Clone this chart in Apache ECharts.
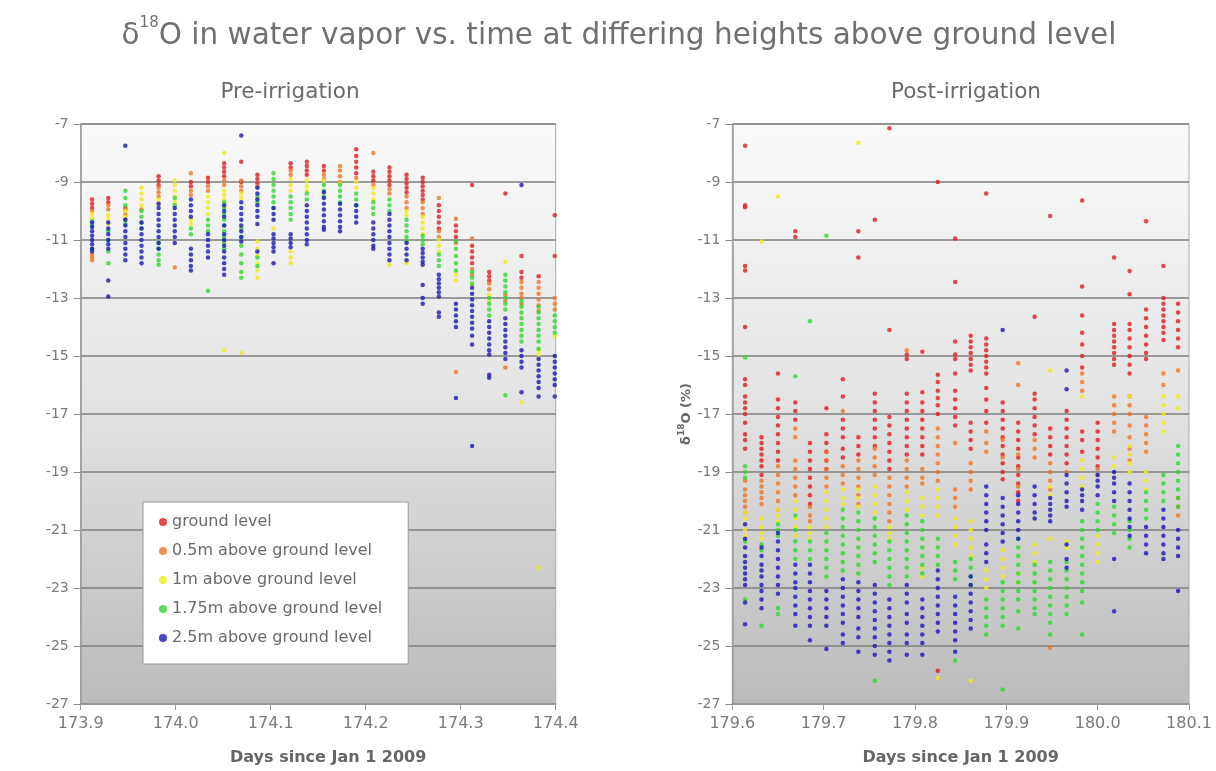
<!DOCTYPE html>
<html>
<head>
<meta charset="utf-8">
<title>δ18O in water vapor</title>
<script src="https://cdn.jsdelivr.net/npm/echarts@6.0.0/dist/echarts.min.js"></script>
<style>
  html, body { margin: 0; padding: 0; background: #ffffff; }
  #chart { width: 1216px; height: 771px; }
</style>
</head>
<body>
<div id="chart"></div>
<script>
// Measurement heights (series names)
const heightNames = ['ground level', '0.5m above ground level', '1m above ground level',
  '1.75m above ground level', '2.5m above ground level'];

// Tick labels on the time axes
const preTicks = [173.9, 174.0, 174.1, 174.2, 174.3, 174.4];
const postTicks = [179.6, 179.7, 179.8, 179.9, 180.0, 180.1];

// ---- Pre-irrigation: start time of each inlet cycle (days since Jan 1 2009)
const preTimes = [173.912, 173.929, 173.947, 173.964, 173.982, 173.999, 174.016, 174.034,
  174.051, 174.069, 174.086, 174.103, 174.121, 174.138, 174.156, 174.173, 174.190, 174.208,
  174.225, 174.243, 174.260, 174.277, 174.295, 174.312, 174.330, 174.347, 174.364, 174.382, 174.399];

// δ18O readings (‰) per cycle, one list per height
const preGround = [
  [-9.6, -9.75, -9.9], [-9.55, -9.7], [-9.9], [], [-8.8, -8.95, -9.1], [], [-9.0, -9.15],
  [-8.85, -9.0], [-8.35, -8.5, -8.65, -8.8], [-8.3, -9.0], [-8.75, -8.9, -9.05], [],
  [-8.35, -8.5], [-8.3, -8.45, -8.6, -8.75], [-8.45, -8.6], [], [-7.87, -8.1, -8.3, -8.5, -8.7],
  [-8.65, -8.8, -8.95], [-8.5, -8.65, -8.8, -8.95, -9.1], [-8.75, -8.9, -9.05, -9.2, -9.35],
  [-8.85, -9.0, -9.15, -9.3, -9.45, -9.6], [-9.8, -10.0, -10.2, -10.4, -10.6], [-10.5, -10.7, -10.9],
  [-9.1, -11.2, -11.4, -11.6, -11.8], [-12.1, -12.25, -12.4], [-9.4], [-11.55, -12.1, -12.3],
  [-12.25], [-10.15, -11.55]
];
const preHalf = [
  [-10.0, -11.5, -11.6, -11.7], [-9.8, -9.95], [-9.95, -10.1], [-9.95], [-9.2, -9.35, -9.5],
  [-11.95], [-8.7, -9.3, -9.45], [-9.15, -9.3], [-8.95, -9.1], [-8.95, -9.15, -9.3], [-9.15], [],
  [-8.6, -8.75], [], [-8.75, -8.9], [-8.45, -8.6, -8.8, -9.0], [-8.85], [-8.0, -9.1], [-9.25, -9.4],
  [-9.5, -9.7, -9.9], [-9.7, -9.9, -10.1], [-9.55, -10.7, -10.9], [-10.27, -11.1, -15.55],
  [-10.95, -12.0, -12.2], [-12.5, -12.7], [-12.9, -13.1, -15.4], [-12.45, -12.65, -12.85, -13.0, -13.2],
  [-12.45, -12.65, -12.85, -13.05, -13.25, -13.45], [-13.0, -13.2, -13.4]
];
const preOne = [
  [-10.1, -10.25], [-10.15, -10.3, -10.45], [-10.0, -10.2], [-9.2, -9.4, -9.6, -9.8], [-9.6, -9.75],
  [-8.95, -9.1, -9.3, -9.5, -9.7], [-10.3, -10.45], [-9.5, -9.7, -9.9, -10.1],
  [-8.0, -9.3, -9.45, -9.6, -14.8], [-9.4, -9.55, -14.9], [-11.05, -11.3, -11.55, -11.8, -12.05, -12.3],
  [-10.6], [-8.9, -9.1, -9.3, -11.4, -11.6, -11.8], [-8.95, -9.15, -9.3], [-8.95], [-9.05],
  [-9.0, -9.2], [-9.2, -9.4, -9.6], [-11.85], [-10.0, -10.15, -11.8], [-10.2, -10.4, -10.6, -10.8],
  [-11.0, -11.2, -11.4], [-12.2, -12.4], [-12.55], [-12.9, -13.1], [-11.75], [-16.6],
  [-14.8, -14.95, -22.3], [-14.3]
];
const preOneSeventyFive = [
  [-10.35, -10.5, -11.3], [-10.7, -11.0, -11.4, -11.8], [-9.3, -9.55, -9.8, -10.3, -10.45],
  [-10.0, -10.2, -10.4, -10.6], [-11.1, -11.3, -11.5, -11.7, -11.85], [-9.55, -9.8], [-10.6, -10.8],
  [-10.3, -10.5, -10.7, -12.75], [-9.7, -9.9, -10.1, -10.3, -10.5, -10.7, -10.9, -11.1, -11.3],
  [-10.6, -10.9, -11.2, -11.5, -11.8, -12.1, -12.3], [-9.5, -9.7, -11.6, -11.9],
  [-8.7, -8.9, -9.1, -9.3, -9.5, -9.7, -9.9], [-9.5, -9.7, -9.9, -10.1, -10.3], [-9.4, -9.6],
  [-9.1, -9.3, -9.5], [-9.1, -9.3, -9.5, -9.7], [-9.4, -9.6, -9.8], [-9.7, -9.9, -10.1],
  [-9.6, -9.8, -10.0], [-10.3, -10.5, -10.7, -10.9, -11.05], [-10.85, -11.0, -11.15],
  [-11.5, -11.7, -11.9], [-11.05, -11.3, -11.55, -11.8, -12.05], [-12.1, -12.3, -12.5],
  [-13.0, -13.2, -13.4, -13.6], [-12.2, -12.4, -12.6, -12.8, -13.0, -13.2, -13.4, -16.35],
  [-13.1, -13.3, -13.5, -13.7, -13.9, -14.1, -14.3, -14.5],
  [-13.3, -13.5, -13.7, -13.9, -14.1, -14.3, -14.5, -14.75], [-13.6, -13.8, -14.0, -14.2]
];
const preTwoFive = [
  [-10.4, -10.55, -10.7, -10.85, -11.0, -11.15, -11.3, -11.4],
  [-10.4, -10.6, -10.8, -11.0, -11.15, -11.3, -12.4, -12.95],
  [-7.75, -10.3, -10.5, -10.7, -10.9, -11.1, -11.3, -11.5, -11.7],
  [-10.4, -10.6, -10.8, -11.0, -11.2, -11.4, -11.6, -11.8],
  [-9.75, -9.9, -10.1, -10.3, -10.5, -10.7, -10.9, -11.1, -11.3],
  [-9.9, -10.1, -10.3, -10.5, -10.7, -10.9, -11.1],
  [-9.6, -9.8, -10.0, -10.2, -11.3, -11.5, -11.7, -11.9, -12.05],
  [-10.8, -11.0, -11.2, -11.4, -11.6],
  [-9.8, -10.0, -10.2, -10.5, -10.8, -11.0, -11.2, -11.4, -11.6, -11.8, -12.0, -12.2],
  [-7.4, -9.7, -9.9, -10.1, -10.3, -10.5, -10.7, -10.9, -11.05],
  [-9.2, -9.4, -9.6, -9.8, -10.0, -10.2, -10.45, -11.4],
  [-9.9, -10.1, -10.3, -10.8, -10.95, -11.1, -11.25, -11.4, -11.8],
  [-10.8, -10.95, -11.1, -11.25],
  [-9.8, -10.0, -10.2, -10.4, -10.6, -10.8, -11.0, -11.15],
  [-9.35, -9.55, -9.75, -9.95, -10.15, -10.35, -10.55, -10.65],
  [-9.75, -9.95, -10.15, -10.35, -10.55, -10.7],
  [-9.8, -10.0, -10.2, -10.4],
  [-10.4, -10.6, -10.8, -11.0, -11.2, -11.3],
  [-10.1, -10.3, -10.5, -10.7, -10.9, -11.1, -11.3, -11.5, -11.7],
  [-11.1, -11.3, -11.5, -11.7],
  [-11.3, -11.45, -11.6, -11.75, -11.85, -12.55, -13.0, -13.2],
  [-12.2, -12.35, -12.5, -12.65, -12.8, -12.95, -13.5, -13.65],
  [-13.2, -13.4, -13.6, -13.8, -14.0, -16.45],
  [-12.65, -12.85, -13.05, -13.25, -13.45, -13.65, -13.85, -14.05, -14.3, -14.6, -18.1],
  [-13.8, -14.0, -14.2, -14.4, -14.6, -14.8, -14.95, -15.65, -15.75],
  [-13.7, -13.9, -14.1, -14.3, -14.5, -14.7, -14.9, -15.1],
  [-9.1, -14.8, -15.0, -15.2, -15.4, -16.25],
  [-15.1, -15.3, -15.5, -15.7, -15.9, -16.1, -16.4],
  [-15.0, -15.2, -15.4, -15.6, -15.8, -16.0, -16.4]
];

// ---- Post-irrigation cycles
const postTimes = [179.614, 179.632, 179.650, 179.669, 179.685, 179.703, 179.721, 179.738,
  179.756, 179.772, 179.791, 179.808, 179.825, 179.844, 179.861, 179.878, 179.896, 179.913,
  179.931, 179.948, 179.966, 179.983, 180.000, 180.018, 180.035, 180.053, 180.072, 180.088];

const postGround = [
  [-7.75, -9.8, -9.87, -11.9, -12.05, -14.0, -15.8, -16.0, -16.4, -16.6, -16.8, -17.0, -17.3, -17.7, -17.9, -18.2],
  [-17.8, -18.0, -18.2, -18.4, -18.6, -18.8, -19.1],
  [-15.6, -16.5, -16.8, -17.1, -17.4, -17.7, -18.0, -18.3, -18.6],
  [-10.7, -10.9, -16.6, -16.9, -17.2],
  [-18.0, -18.3, -18.6, -18.9, -19.2, -19.5, -19.8, -20.1],
  [-16.8, -17.7, -18.0, -18.3, -18.6, -18.9],
  [-15.8, -16.4, -17.2, -17.5, -17.8, -18.2, -18.5],
  [-10.7, -11.6, -17.8, -18.1, -18.4],
  [-10.3, -16.3, -16.6, -16.9, -17.2, -17.5, -17.8, -18.1],
  [-7.15, -14.1, -17.1, -17.4, -17.7, -18.0, -18.3, -18.6, -18.9],
  [-14.95, -15.1, -16.3, -16.6, -16.9, -17.2, -17.5, -17.8, -18.1, -18.4],
  [-14.85, -16.25, -16.6, -16.9, -17.2, -17.5, -17.8, -18.1, -18.4],
  [-9.0, -15.65, -15.9, -16.2, -16.45, -16.7, -17.0, -25.85],
  [-10.95, -12.45, -14.5, -14.95, -15.1, -15.6, -16.2, -16.5, -16.8, -17.1, -17.4],
  [-14.3, -14.5, -14.7, -14.9, -15.1, -15.3, -15.5, -17.3, -17.6, -17.9, -18.2],
  [-9.4, -14.4, -14.6, -14.8, -15.0, -15.2, -15.4, -15.6, -16.1, -16.5, -16.9, -17.3],
  [-16.6, -16.9, -17.2, -17.5, -17.8, -18.1, -18.4, -18.7, -19.0, -19.25],
  [-17.3, -17.6, -17.9, -18.2, -18.5, -18.8, -19.1, -19.4, -19.7, -20.0],
  [-13.65, -16.3, -16.5, -16.8, -17.1, -17.4, -17.7],
  [-10.17, -17.5, -17.8, -18.1, -18.4],
  [-16.9, -17.2, -17.5, -17.8, -18.1, -18.4, -18.7],
  [-9.64, -12.6, -13.6, -14.2, -14.6, -15.0, -15.4, -17.6, -17.9, -18.3],
  [-17.3, -17.6, -17.9, -18.2, -18.5, -18.8],
  [-11.6, -13.9, -14.1, -14.3, -14.5, -14.7, -14.9, -15.1, -15.3],
  [-12.07, -12.87, -13.9, -14.1, -14.4, -14.7, -15.0, -15.3, -15.6],
  [-10.35, -13.4, -13.7, -14.0, -14.3, -14.6, -14.9, -15.1],
  [-11.9, -13.0, -13.2, -13.4, -13.6, -13.8, -14.0, -14.2, -14.45],
  [-13.2, -13.5, -13.8, -14.1, -14.4, -14.7]
];
const postHalf = [
  [-19.3, -19.6, -19.8, -20.0, -20.2, -20.4], [-19.3, -19.5, -19.7, -19.9, -20.1],
  [-18.8, -19.1, -19.4, -19.7, -20.0, -20.3], [-17.5, -17.8, -18.6, -18.9, -19.2, -19.5, -19.8],
  [-20.2, -20.5, -20.7], [-18.3, -18.6, -18.9, -19.2, -19.5], [-16.9, -18.8, -19.1, -19.4],
  [-18.6, -18.9, -19.2, -19.5, -19.8, -20.1], [-18.2, -18.5, -18.8, -19.1],
  [-19.2, -19.5, -19.8, -20.1, -20.4, -20.7], [-14.8, -18.6, -18.9, -19.2, -19.5],
  [-18.9, -19.2, -19.4], [-17.5, -17.8, -18.1, -18.4, -18.7, -19.0, -19.3],
  [-18.0, -19.6, -19.9, -20.2], [-18.7, -19.0, -19.3, -19.6], [-17.6, -18.0, -18.3],
  [-17.9, -18.5], [-15.25, -16.0, -18.4, -18.9, -19.5], [-17.9, -18.2, -18.5],
  [-18.7, -19.0, -19.3, -19.6, -25.06], [-19.0], [-15.6, -15.9, -16.2], [-18.9, -19.1],
  [-16.4, -16.7, -17.0, -17.3, -17.6], [-16.4, -16.7, -17.0, -17.4, -17.8, -18.2, -18.6],
  [-17.1, -17.4, -17.7, -18.0, -18.3], [-15.6, -16.0], [-15.5, -19.9, -20.2, -20.5]
];
const postOne = [
  [-20.4, -20.6, -20.8, -21.0, -21.2, -23.45], [-11.05, -20.6, -20.9, -21.1, -21.3],
  [-9.5, -20.3, -20.5, -20.7], [-20.0, -20.3, -20.6, -20.9, -21.2], [-20.9, -21.1, -21.3],
  [-19.7, -20.0, -20.3, -20.6, -20.9], [-19.6, -19.9, -20.1], [-7.65, -19.6, -19.9, -20.2],
  [-19.5, -19.8, -20.1, -20.4], [-20.9, -21.1, -21.3], [-19.7, -20.0, -20.3],
  [-19.9, -20.2, -20.5, -22.3, -22.6], [-19.6, -19.9, -20.2, -20.5, -26.1],
  [-20.6, -20.9, -21.2, -21.5], [-20.7, -21.0, -21.3, -21.6, -21.9, -26.2], [-22.4, -22.7, -23.0],
  [-21.7, -22.0, -22.3, -22.6], [-22.5, -22.8], [-21.5, -21.8, -22.1], [-15.5, -19.5, -19.8, -21.3],
  [-21.4, -21.6], [-16.4, -18.6, -18.9, -19.2, -19.5], [-21.2, -21.5, -21.8, -22.1], [-18.5, -18.8],
  [-16.4, -18.1, -18.4, -18.7, -19.0], [-19.0, -19.3, -19.6], [-16.4, -16.7, -17.0, -17.3, -17.6],
  [-16.4, -16.8]
];
const postOneSeventyFive = [
  [-15.05, -18.8, -19.0, -19.2, -21.4, -23.4], [-21.5, -21.7, -24.3], [-20.8, -21.0, -21.2, -23.7, -23.9],
  [-15.7, -20.5, -21.0, -21.4, -21.7, -22.0], [-13.8, -21.4, -21.7, -22.0],
  [-10.85, -21.1, -21.4, -21.7, -22.0, -22.3, -22.6], [-20.3, -20.6, -20.9, -21.2, -21.5, -21.8, -22.1, -22.4],
  [-20.4, -20.7, -21.0, -21.3, -21.6, -21.9, -22.2, -22.5], [-20.6, -20.9, -21.2, -21.5, -21.8, -22.1, -26.2],
  [-21.4, -21.7, -22.0, -22.3, -22.6, -22.9], [-20.5, -20.8, -21.1, -21.4, -21.7, -22.0, -22.3, -22.6],
  [-20.7, -21.0, -21.3, -21.6, -21.9, -22.2, -22.5], [-21.3, -21.6, -21.9, -22.2],
  [-22.1, -22.4, -22.7, -25.5], [-22.0, -22.3, -22.6, -22.9], [-23.4, -23.7, -24.0, -24.3, -24.6],
  [-22.8, -23.1, -23.4, -23.7, -24.0, -24.3, -26.5],
  [-21.3, -21.6, -21.9, -22.2, -22.5, -22.8, -23.1, -23.4, -23.8, -24.4],
  [-22.2, -22.5, -22.8, -23.1, -23.4, -23.7, -23.9],
  [-22.1, -22.4, -22.7, -23.0, -23.3, -23.6, -23.9, -24.2, -24.6],
  [-22.1, -22.4, -22.7, -23.0, -23.3, -23.6, -23.9],
  [-20.7, -21.0, -21.3, -21.6, -21.9, -22.2, -22.5, -22.8, -23.1, -23.5, -24.6],
  [-20.1, -20.4, -20.7, -21.0], [-20.2, -20.5, -20.8, -21.1], [-20.7, -21.0, -21.3, -21.6],
  [-19.7, -20.0, -20.3, -20.6], [-19.1, -19.4, -19.7, -20.0],
  [-18.1, -18.4, -18.7, -19.0, -19.3, -19.6, -19.9, -20.2]
];
const postTwoFive = [
  [-20.8, -21.3, -21.6, -21.9, -22.1, -22.3, -22.5, -22.7, -22.9, -23.5, -24.25],
  [-21.6, -21.9, -22.2, -22.4, -22.6, -22.9, -23.1, -23.4, -23.7],
  [-21.1, -21.4, -21.7, -22.0, -22.3, -22.6, -22.9, -23.2],
  [-22.2, -22.5, -22.8, -23.0, -23.3, -23.6, -23.9, -24.3],
  [-22.2, -22.5, -22.8, -23.1, -23.4, -23.7, -24.0, -24.3, -24.8],
  [-23.1, -23.4, -23.7, -24.0, -24.3, -25.1],
  [-22.7, -23.0, -23.3, -23.6, -23.9, -24.2, -24.6, -24.9],
  [-22.8, -23.1, -23.4, -23.7, -24.0, -24.4, -24.7, -25.2],
  [-22.9, -23.2, -23.5, -23.8, -24.1, -24.4, -24.7, -25.0, -25.3],
  [-23.4, -23.7, -24.0, -24.3, -24.6, -24.9, -25.2, -25.5],
  [-22.9, -23.2, -23.5, -23.9, -24.2, -24.6, -24.9, -25.3],
  [-23.4, -23.7, -24.0, -24.3, -24.6, -24.9, -25.3],
  [-22.4, -22.7, -23.0, -23.3, -23.6, -23.9, -24.2, -24.5],
  [-23.3, -23.6, -23.9, -24.2, -24.5, -24.8, -25.2],
  [-22.6, -22.9, -23.2, -23.5, -23.8, -24.1, -24.4],
  [-19.5, -19.8, -20.1, -20.4, -20.7, -21.0, -21.5, -21.8, -22.1],
  [-14.1, -19.9, -20.2, -20.5, -20.8, -21.1, -21.4],
  [-19.8, -20.1, -20.4, -20.7, -21.0, -21.3],
  [-19.5, -19.8, -20.1, -20.4, -20.6],
  [-19.9, -20.1, -20.3, -20.5, -20.7],
  [-15.5, -16.15, -19.1, -19.4, -19.7, -20.0, -20.2, -21.5, -22.0, -22.3],
  [-19.6, -19.8, -20.0, -20.3],
  [-19.1, -19.3, -19.5, -19.8],
  [-19.0, -19.2, -19.4, -19.7, -20.0, -22.0, -23.8],
  [-19.4, -19.7, -20.0, -20.3, -20.6, -20.9, -21.2],
  [-20.9, -21.2, -21.5, -21.8],
  [-20.3, -20.6, -20.9, -21.2, -21.5, -21.8, -22.0],
  [-21.0, -21.3, -21.6, -21.9, -23.1]
];

const heightColors = ['#e01b1f', '#ee7526', '#f2ea1c', '#2ed82e', '#1818b8'];

// Flatten per-cycle readings into [time, value] pairs
function toPoints(times, groups) {
  const pts = [];
  groups.forEach((ys, i) => ys.forEach(y => pts.push([times[i], y])));
  return pts;
}

const preSets = [preGround, preHalf, preOne, preOneSeventyFive, preTwoFive];
const postSets = [postGround, postHalf, postOne, postOneSeventyFive, postTwoFive];

const FONT = 'DejaVu Sans';
const plotFill = {
  type: 'linear', x: 0, y: 0, x2: 0, y2: 1,
  colorStops: [
    { offset: 0, color: '#fafafa' },
    { offset: 0.45, color: '#e5e5e5' },
    { offset: 1, color: '#bbbbbb' }
  ]
};

function timeAxis(gridIndex, ticks, namePad) {
  return {
    gridIndex, type: 'value',
    min: ticks[0], max: ticks[ticks.length - 1], interval: 0.1,
    name: 'Days since Jan 1 2009', nameLocation: 'middle', nameGap: 46,
    nameTextStyle: { color: '#666', fontSize: 16, fontWeight: 'bold', fontFamily: FONT, padding: namePad },
    axisLine: { show: true, onZero: false, lineStyle: { color: '#9a9a9a', width: 1.5 } },
    axisTick: { show: true, length: 6, lineStyle: { color: '#9a9a9a' } },
    splitLine: { show: false },
    axisLabel: { color: '#7a7a7a', fontSize: 16, fontFamily: FONT, margin: 12,
      showMinLabel: true, showMaxLabel: true, formatter: v => v.toFixed(1) }
  };
}

function deltaAxis(gridIndex, withName) {
  const ax = {
    gridIndex, type: 'value', min: -27, max: -7, interval: 2,
    axisLine: { show: true, onZero: false, lineStyle: { color: '#9a9a9a', width: 1.5 } },
    axisTick: { show: true, length: 7, lineStyle: { color: '#8a8a8a' } },
    splitLine: { show: true, lineStyle: { color: '#7e7e7e', width: 1.5 } },
    axisLabel: { color: '#7a7a7a', fontSize: 14, fontFamily: FONT, margin: 12 }
  };
  if (withName) {
    ax.name = '{n|δ}{s|18}{n|O (%)}';
    ax.nameLocation = 'middle';
    ax.nameRotate = 90;
    ax.nameGap = 36;
    ax.nameTextStyle = {
      color: '#666', fontFamily: FONT,
      rich: {
        n: { fontSize: 13, fontWeight: 'bold', color: '#666', fontFamily: FONT, verticalAlign: 'bottom', lineHeight: 16 },
        s: { fontSize: 9, fontWeight: 'bold', color: '#666', fontFamily: FONT, verticalAlign: 'top', lineHeight: 16 }
      }
    };
  }
  return ax;
}

const series = [];
[preSets, postSets].forEach((sets, g) => {
  const times = g === 0 ? preTimes : postTimes;
  sets.forEach((groups, k) => {
    series.push({
      name: heightNames[k], type: 'scatter',
      xAxisIndex: g, yAxisIndex: g,
      symbol: 'circle', symbolSize: 4.5,
      itemStyle: { color: heightColors[k] },
      data: toPoints(times, groups)
    });
  });
});

const chart = echarts.init(document.getElementById('chart'), null, { renderer: 'canvas' });
chart.setOption({
  animation: false,
  backgroundColor: '#ffffff',
  textStyle: { fontFamily: FONT },
  title: [
    {
      text: '{n|δ}{s|18}{n|O in water vapor vs. time at differing heights above ground level}',
      left: 614, top: 11, textAlign: 'center',
      textStyle: {
        fontWeight: 'normal',
        rich: {
          n: { fontSize: 29.5, fontWeight: 'normal', color: '#707070', fontFamily: FONT, verticalAlign: 'bottom', lineHeight: 35 },
          s: { fontSize: 15, fontWeight: 'normal', color: '#707070', fontFamily: FONT, verticalAlign: 'top', lineHeight: 35 }
        }
      }
    },
    { text: 'Pre-irrigation', left: 285, top: 76, textAlign: 'center',
      textStyle: { fontSize: 21.5, fontWeight: 'normal', color: '#6a6a6a', fontFamily: FONT } },
    { text: 'Post-irrigation', left: 961, top: 76, textAlign: 'center',
      textStyle: { fontSize: 21.5, fontWeight: 'normal', color: '#6a6a6a', fontFamily: FONT } }
  ],
  legend: {
    orient: 'vertical', left: 143, top: 502,
    data: heightNames,
    backgroundColor: '#ffffff', borderColor: '#9a9a9a', borderWidth: 1,
    padding: [12, 26, 18, 16], itemGap: 13,
    itemWidth: 8, itemHeight: 8, icon: 'circle',
    textStyle: { color: '#6a6a6a', fontSize: 16, fontFamily: FONT }
  },
  grid: [
    { left: 80.7, top: 124, width: 475, height: 585.3, show: true,
      backgroundColor: plotFill, borderColor: '#a8a8a8', borderWidth: 1 },
    { left: 732.3, top: 124, width: 456.7, height: 585.3, show: true,
      backgroundColor: plotFill, borderColor: '#a8a8a8', borderWidth: 1 }
  ],
  xAxis: [timeAxis(0, preTicks, [0, 0, 0, 20]), timeAxis(1, postTicks, [0, 0, 0, 0])],
  yAxis: [deltaAxis(0, false), deltaAxis(1, true)],
  series
});
</script>
</body>
</html>
